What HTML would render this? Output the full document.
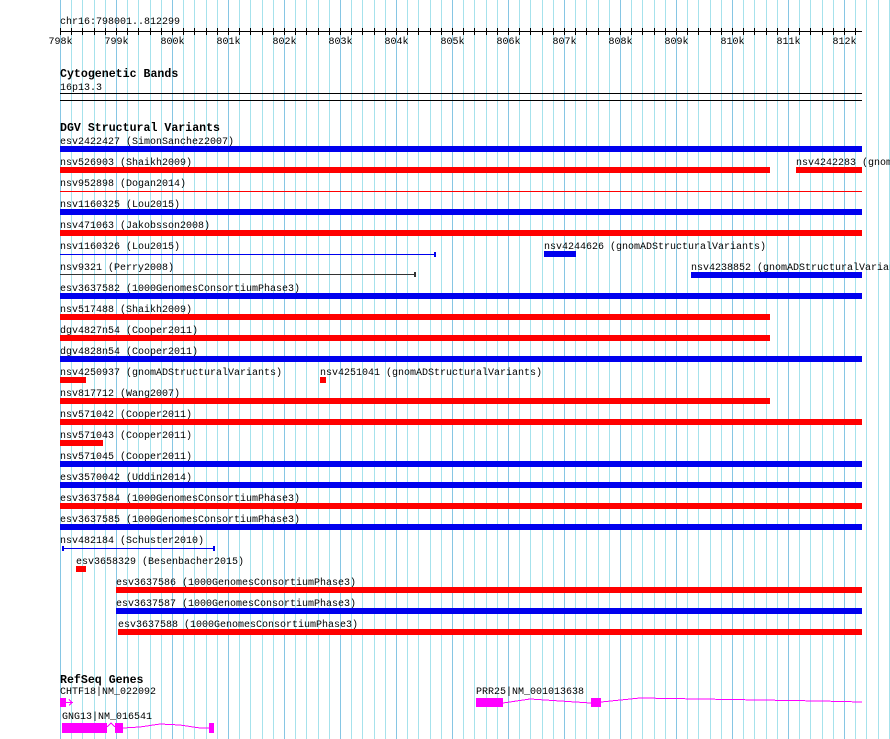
<!DOCTYPE html>
<html><head><meta charset="utf-8"><style>
html,body{margin:0;padding:0;background:#fff;width:890px;height:739px;overflow:hidden}
svg{display:block}
text{font-family:"Liberation Mono","DejaVu Sans Mono",monospace;font-size:10px;fill:#000}
.t{font-weight:bold;font-size:11.6px}
</style></head><body>
<svg id="s" width="890" height="739" xmlns="http://www.w3.org/2000/svg" shape-rendering="crispEdges">
<g id="grid"></g>
<text x="60" y="24">chr16:798001..812299</text>
<line x1="60" y1="31.5" x2="862" y2="31.5" stroke="#000"/>
<g id="ticks"></g>
<text class="t" x="60" y="77">Cytogenetic Bands</text>
<text x="60" y="90">16p13.3</text>
<line x1="60" y1="93.5" x2="862" y2="93.5" stroke="#000"/>
<line x1="60" y1="100.5" x2="862" y2="100.5" stroke="#000"/>
<text class="t" x="60" y="131">DGV Structural Variants</text>
<g id="rows"></g>
<text class="t" x="60" y="683">RefSeq Genes</text>
<text x="60" y="694">CHTF18|NM_022092</text>
<rect x="60" y="698" width="6" height="9" fill="#f0f"/>
<polyline points="66,702.5 73,702.5" stroke="#f0f" fill="none"/>
<polyline points="69,699.5 72,702.5 69,705.5" stroke="#f0f" fill="none"/>
<text x="62" y="719">GNG13|NM_016541</text>
<rect x="62" y="723" width="45" height="10" fill="#f0f"/>
<polyline points="107,727 111,723 115,727" stroke="#f0f" fill="none"/>
<rect x="115" y="723" width="8" height="10" fill="#f0f"/>
<polyline points="123,728 140,727 160,724 180,725 200,728 209,728" stroke="#f0f" fill="none"/>
<rect x="209" y="723" width="5" height="10" fill="#f0f"/>
<text x="476" y="694">PRR25|NM_001013638</text>
<rect x="476" y="698" width="27" height="9" fill="#f0f"/>
<polyline points="503,703 530,699 560,701 591,703" stroke="#f0f" fill="none"/>
<rect x="591" y="698" width="10" height="9" fill="#f0f"/>
<polyline points="601,702 640,698 700,699 760,700 820,701 862,702" stroke="#f0f" fill="none"/>
</svg>
<script>
var ns="http://www.w3.org/2000/svg";
function el(p,n,a,t){var e=document.createElementNS(ns,n);for(var k in a)e.setAttribute(k,a[k]);if(t)e.textContent=t;document.getElementById(p).appendChild(e);}
for(var i=0;i<=74;i++){var x=Math.round(60+i*11.2)+0.5;el("grid","line",{x1:x,y1:0,x2:x,y2:739,stroke:(i%5==0)?"#86c6e4":"#a6e2ec","stroke-width":1});}
for(var i=0;i<=71;i++){var x=Math.round(60+i*11.2)+0.5;el("ticks","line",{x1:x,y1:28,x2:x,y2:35,stroke:"#000"});}
for(var k=0;k<=14;k++){var x=60+k*56;el("ticks","text",{x:x+0.5,y:44,"text-anchor":"middle"},(798+k)+"k");}
var B="#0000ee",R="#ff0000";
var rows=[
[140,"esv2422427 (SimonSanchez2007)",60,[[60,862,B]]],
[161,"nsv526903 (Shaikh2009)",60,[[60,770,R]]],
[161,"nsv4242283 (gnomADStructuralVariants)",796,[[796,862,R]]],
[182,"nsv952898 (Dogan2014)",60,[]],
[203,"nsv1160325 (Lou2015)",60,[[60,862,B]]],
[224,"nsv471063 (Jakobsson2008)",60,[[60,862,R]]],
[245,"nsv1160326 (Lou2015)",60,[]],
[245,"nsv4244626 (gnomADStructuralVariants)",544,[[544,576,B]]],
[266,"nsv9321 (Perry2008)",60,[]],
[266,"nsv4238852 (gnomADStructuralVariants)",691,[[691,862,B]]],
[287,"esv3637582 (1000GenomesConsortiumPhase3)",60,[[60,862,B]]],
[308,"nsv517488 (Shaikh2009)",60,[[60,770,R]]],
[329,"dgv4827n54 (Cooper2011)",60,[[60,770,R]]],
[350,"dgv4828n54 (Cooper2011)",60,[[60,862,B]]],
[371,"nsv4250937 (gnomADStructuralVariants)",60,[[60,86,R]]],
[371,"nsv4251041 (gnomADStructuralVariants)",320,[[320,326,R]]],
[392,"nsv817712 (Wang2007)",60,[[60,770,R]]],
[413,"nsv571042 (Cooper2011)",60,[[60,862,R]]],
[434,"nsv571043 (Cooper2011)",60,[[60,103,R]]],
[455,"nsv571045 (Cooper2011)",60,[[60,862,B]]],
[476,"esv3570042 (Uddin2014)",60,[[60,862,B]]],
[497,"esv3637584 (1000GenomesConsortiumPhase3)",60,[[60,862,R]]],
[518,"esv3637585 (1000GenomesConsortiumPhase3)",60,[[60,862,B]]],
[539,"nsv482184 (Schuster2010)",60,[]],
[560,"esv3658329 (Besenbacher2015)",76,[[76,86,R]]],
[581,"esv3637586 (1000GenomesConsortiumPhase3)",116,[[116,862,R]]],
[602,"esv3637587 (1000GenomesConsortiumPhase3)",116,[[116,862,B]]],
[623,"esv3637588 (1000GenomesConsortiumPhase3)",118,[[118,862,R]]]
];
rows.forEach(function(r){el("rows","text",{x:r[2],y:r[0]+4},r[1]);r[3].forEach(function(b){el("rows","rect",{x:b[0],y:r[0]+6,width:b[1]-b[0],height:6,fill:b[2]});});});
el("rows","line",{x1:60,y1:191.5,x2:862,y2:191.5,stroke:R});
el("rows","line",{x1:60,y1:254.5,x2:435,y2:254.5,stroke:B});
el("rows","rect",{x:434,y:252,width:2,height:5,fill:B});
el("rows","line",{x1:60,y1:274.5,x2:415,y2:274.5,stroke:"#333"});
el("rows","rect",{x:414,y:272,width:2,height:5,fill:"#333"});
el("rows","line",{x1:62,y1:548.5,x2:214,y2:548.5,stroke:B});
el("rows","rect",{x:62,y:546,width:2,height:5,fill:B});
el("rows","rect",{x:213,y:546,width:2,height:5,fill:B});
</script>
</body></html>
